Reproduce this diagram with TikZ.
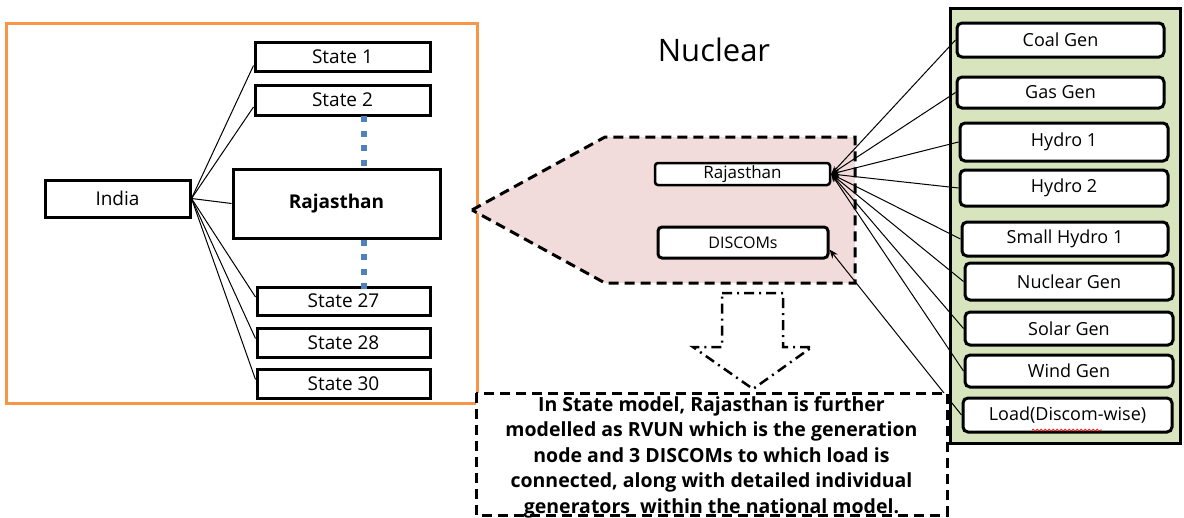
\documentclass[tikz,border=0pt]{standalone}
\usepackage{fontspec}
\setmainfont{Open Sans}
\usetikzlibrary{arrows.meta,decorations.pathmorphing}

\definecolor{frameorange}{HTML}{F79646}
\definecolor{pinkfill}{HTML}{F2DCDB}
\definecolor{greenfill}{HTML}{D7E4BD}
\definecolor{dotblue}{HTML}{4F81BD}

\tikzset{
  statebox/.style={draw,line width=3pt,fill=white,inner sep=0pt,
    font=\fontsize{19}{21}\selectfont},
  genbox/.style={draw,line width=3pt,fill=white,rounded corners=5pt,inner sep=0pt,
    font=\fontsize{18}{20}\selectfont},
  link/.style={line width=1pt},
  dashline/.style={line width=3pt,dash pattern=on 10pt off 6pt}
}

\begin{document}
\begin{tikzpicture}[x=1pt,y=-1pt]
    \useasboundingbox[fill=white] (0,0) rectangle (1184,517);

    % national model
    \draw[frameorange,line width=3pt] (6,23) rectangle (477,403);
    \node[statebox,minimum width=145pt,minimum height=37pt] (india) at (117.5,198.5) {India};
    \node[statebox,minimum width=175pt,minimum height=29pt] (s1) at (342.5,56.5) {State 1};
    \node[statebox,minimum width=175pt,minimum height=30pt] (s2) at (342.5,100) {State 2};
    \node[statebox,minimum width=207pt,minimum height=69pt,font=\fontsize{19}{21}\selectfont\bfseries] (raj) at (336.5,203.5) {Rajasthan};
    \node[statebox,minimum width=173pt,minimum height=28pt] (s27) at (343.5,301) {State 27};
    \node[statebox,minimum width=173pt,minimum height=29pt] (s28) at (343.5,342.5) {State 28};
    \node[statebox,minimum width=173pt,minimum height=29pt] (s30) at (343.5,383.5) {State 30};

    \draw[link] (india.east) -- ([yshift=-9pt]s1.west);
    \draw[link] (india.east) -- ([yshift=-7pt]s2.west);
    \draw[link] (india.east) -- (raj.west);
    \draw[link] (india.east) -- ([yshift=4pt]s27.west);
    \draw[link] (india.east) -- ([yshift=4pt]s28.west);
    \draw[link] (india.east) -- ([yshift=4pt]s30.west);

    % more states in between
    \coordinate (dtop) at (364,116);
    \coordinate (dbot) at (364,296);
    \draw[dotblue,line width=6pt,dash pattern=on 6pt off 8.5pt] (dtop) -- (dtop |- raj.north);
    \draw[dotblue,line width=6pt,dash pattern=on 6pt off 8.5pt] (dbot |- raj.south) -- (dbot);

    \node[font=\fontsize{31}{34}\selectfont] (title) at (714,50) {Nuclear};

    % state model
    \draw[dashline,fill=pinkfill] (472,210) -- (605,137) -- (855,137) -- (855,283) -- (605,283) -- cycle;
    \node[genbox,rounded corners=3pt,line width=2.5pt,minimum width=175pt,minimum height=22pt,font=\fontsize{17}{18}\selectfont] (rajs) at (742.5,174) {Rajasthan};
    \node[genbox,rounded corners=4pt,minimum width=170pt,minimum height=31pt,font=\fontsize{16}{18}\selectfont] (discoms) at (743,242.5) {DISCOMs};

    % generators
    \draw[line width=3pt,fill=greenfill] (950,8) rectangle (1180,443);
    \node[genbox,minimum width=207pt,minimum height=34pt] (coal) at (1060.5,40) {Coal Gen};
    \node[genbox,minimum width=207pt,minimum height=31pt] (gas) at (1060.5,92.5) {Gas Gen};
    \node[genbox,minimum width=208pt,minimum height=38pt] (h1) at (1064,142) {Hydro 1};
    \node[genbox,minimum width=208pt,minimum height=36pt] (h2) at (1064,188) {Hydro 2};
    \node[genbox,minimum width=206pt,minimum height=34pt] (sh1) at (1065,239) {Small Hydro 1};
    \node[genbox,minimum width=208pt,minimum height=37pt] (nuc) at (1069,281.5) {Nuclear Gen};
    \node[genbox,minimum width=208pt,minimum height=33pt] (sol) at (1069,328.5) {Solar Gen};
    \node[genbox,minimum width=208pt,minimum height=32pt] (wind) at (1069,371) {Wind Gen};
    \node[genbox,minimum width=209pt,minimum height=34pt] (load) at (1067.5,415) {Load(Discom-wise)};
    \draw[red,line width=0.7pt,decorate,decoration={snake,amplitude=1pt,segment length=4pt}] (1032,430) -- (1102,430);

    \foreach \g in {coal,gas,h1,h2,sh1,nuc,sol,wind}
        \draw[link,-{Stealth[length=8pt,width=6pt]}] (\g.west) -- (rajs.east);
    \draw[link,-{Stealth[length=9pt,width=7pt]}] (load.west) -- ([yshift=-7pt]discoms.east);

    % down arrow and note
    \draw[line width=2.5pt,dash pattern=on 10pt off 5pt on 2pt off 5pt]
        (722,293) -- (783,293) -- (783,347) -- (812,347) -- (753,389) -- (693,347) -- (722,347) -- cycle;
    \draw[dashline,fill=white] (476,393) rectangle (947,515);
    \node[align=center,font=\fontsize{19.5}{25.5}\selectfont\bfseries] (note) at (711.5,457)
        {In State model, Rajasthan is further\\
         modelled as RVUN which is the generation\\
         node and 3 DISCOMs to which load is\\
         connected, along with detailed individual\\
         generators\ \ within the national model.};
\end{tikzpicture}
\end{document}
